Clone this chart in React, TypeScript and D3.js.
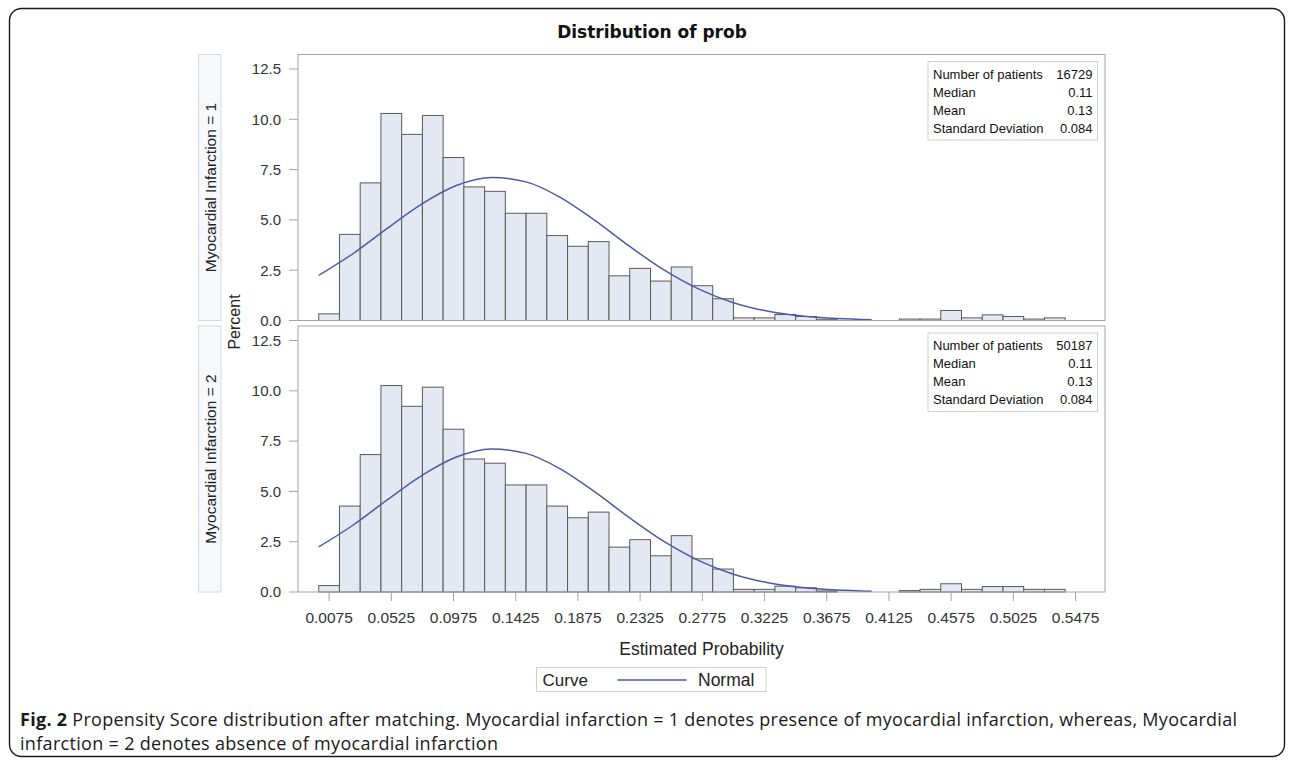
import { useEffect } from "react"
import * as d3 from "d3"

// histogram bins of width 0.015 starting at 0, values in percent
const binWidth = 0.015
const miPresentPct = [
  0.33, 4.28, 6.84, 10.29, 9.25, 10.19, 8.1, 6.64, 6.42, 5.33, 5.33, 4.22, 3.69, 3.92, 2.22, 2.59, 1.96, 2.66,
  1.73, 1.08, 0.13, 0.13, 0.3, 0.2, 0.06, 0, 0, 0, 0.07, 0.07, 0.5, 0.13, 0.28, 0.2, 0.07, 0.13,
]
const miAbsentPct = [
  0.32, 4.27, 6.83, 10.26, 9.23, 10.18, 8.09, 6.61, 6.4, 5.32, 5.32, 4.27, 3.69, 3.97, 2.23, 2.6, 1.8, 2.8,
  1.65, 1.14, 0.13, 0.13, 0.29, 0.21, 0.05, 0, 0, 0, 0.07, 0.13, 0.41, 0.13, 0.27, 0.27, 0.13, 0.13,
]

// normal curve
const curveX = [0, 0.025, 0.05, 0.075, 0.1, 0.125, 0.15, 0.175, 0.2, 0.225, 0.25, 0.275, 0.3, 0.325, 0.35, 0.375, 0.4]
const curvePct = [2.24, 3.33, 4.6, 5.81, 6.72, 7.11, 6.89, 6.11, 4.96, 3.68, 2.5, 1.56, 0.885, 0.46, 0.22, 0.096, 0.038]

const xTicks = [0.0075, 0.0525, 0.0975, 0.1425, 0.1875, 0.2325, 0.2775, 0.3225, 0.3675, 0.4125, 0.4575, 0.5025, 0.5475]
const yTicks = [0, 2.5, 5, 7.5, 10, 12.5]

const statLabels = ["Number of patients", "Median", "Mean", "Standard Deviation"]
const miPresentStats = ["16729", "0.11", "0.13", "0.084"]
const miAbsentStats = ["50187", "0.11", "0.13", "0.084"]

const panelNames = ["Myocardial Infarction = 1", "Myocardial Infarction = 2"]

const W = 1292
const H = 766
const left = 298
const right = 1105
const panelH = 266
const panelTops = [54.5, 326]

const FONT = "'Liberation Sans', Arial, sans-serif"
const CAPTION_FONT = "'Open Sans', 'Noto Sans', sans-serif"
const BAR_FILL = "#e3e8f2"
const BAR_STROKE = "#5a5a5a"
const FRAME = "#a3a3a3"
const CURVE = "#4a5aa6"

export default function App() {
  useEffect(() => {
    document.body.style.margin = "0"
  }, [])

  const x = d3.scaleLinear().domain([-0.015, 0.5688]).range([left, right])

  const panels = [
    { name: panelNames[0], values: miPresentPct, stats: miPresentStats },
    { name: panelNames[1], values: miAbsentPct, stats: miAbsentStats },
  ]

  return (
    <svg width={W} height={H} style={{ display: "block", fontFamily: FONT }}>
      <rect x={9.5} y={8.5} width={1275} height={748} rx={12} fill="white" stroke="#1a1a1a" strokeWidth={1.4} />

      <text x={652} y={38} textAnchor="middle" fontFamily="'DejaVu Sans', Verdana, sans-serif" fontWeight="bold" fontSize={17} fill="#111">
        Distribution of prob
      </text>

      {panels.map((p, pi) => {
        const top = panelTops[pi]
        const bottom = top + panelH
        const y = d3.scaleLinear().domain([0, 13.22]).range([bottom, top])
        const line = d3
          .line<number>()
          .x((_, i) => x(curveX[i]))
          .y((d) => y(d))
          .curve(d3.curveMonotoneX)
        return (
          <g key={pi}>
            {/* strip */}
            <rect x={198.5} y={top} width={22.5} height={panelH} fill="#f7f8fc" stroke="#d6d8dc" />
            <text
              transform={`translate(215.5,${top + panelH / 2}) rotate(-90)`}
              textAnchor="middle"
              fontSize={15.5}
              fill="#222"
            >
              {p.name}
            </text>

            {/* bars */}
            {p.values.map((v, i) =>
              v > 0 ? (
                <rect
                  key={i}
                  x={x(i * binWidth)}
                  y={y(v)}
                  width={x((i + 1) * binWidth) - x(i * binWidth)}
                  height={y(0) - y(v)}
                  fill={BAR_FILL}
                  stroke={BAR_STROKE}
                  strokeWidth={1}
                />
              ) : null
            )}

            {/* normal curve */}
            <path d={line(curvePct) || ""} fill="none" stroke={CURVE} strokeWidth={1.5} />

            {/* frame */}
            <rect x={left} y={top} width={right - left} height={panelH} fill="none" stroke={FRAME} strokeWidth={1} />

            {/* y axis */}
            {yTicks.map((t) => (
              <g key={t}>
                <line x1={289} x2={left} y1={y(t)} y2={y(t)} stroke={FRAME} />
                <text x={281} y={y(t)} dy="0.36em" textAnchor="end" fontSize={15} fill="#333">
                  {d3.format(".1f")(t)}
                </text>
              </g>
            ))}

            {/* stats inset */}
            <g>
              <rect x={928} y={top + 7} width={169.5} height={78.5} fill="white" stroke="#cfcfcf" />
              {statLabels.map((s, i) => (
                <g key={s}>
                  <text x={933} y={top + 24 + i * 18} fontSize={13} fill="#111">
                    {s}
                  </text>
                  <text x={1092.5} y={top + 24 + i * 18} fontSize={13} textAnchor="end" fill="#111">
                    {p.stats[i]}
                  </text>
                </g>
              ))}
            </g>
          </g>
        )
      })}

      <text transform="translate(240,322) rotate(-90)" textAnchor="middle" fontSize={16} fill="#222">
        Percent
      </text>

      {/* x axis of bottom panel */}
      {xTicks.map((t) => (
        <g key={t}>
          <line x1={x(t)} x2={x(t)} y1={592} y2={601} stroke={FRAME} />
          <text x={x(t)} y={622.5} textAnchor="middle" fontSize={15.5} fill="#333">
            {d3.format(".4f")(t)}
          </text>
        </g>
      ))}
      <text x={(left + right) / 2} y={655} textAnchor="middle" fontSize={17.5} fill="#222">
        Estimated Probability
      </text>

      {/* legend */}
      <rect x={536.5} y={667.5} width={229.5} height={24} fill="white" stroke="#cfcfcf" />
      <text x={542.5} y={686} fontSize={17} fill="#222">
        Curve
      </text>
      <line x1={617.5} x2={686.5} y1={680} y2={680} stroke={CURVE} strokeWidth={1.5} />
      <text x={698} y={686} fontSize={17.5} fill="#222">
        Normal
      </text>

      {/* caption */}
      <text x={20} y={726} fontFamily={CAPTION_FONT} fontSize={18} fill="#1a1a1a" textLength={1217} lengthAdjust="spacing">
        <tspan fontWeight="bold">Fig. 2</tspan>
        <tspan> Propensity Score distribution after matching. Myocardial infarction = 1 denotes presence of myocardial infarction, whereas, Myocardial</tspan>
      </text>
      <text x={20} y={750} fontFamily={CAPTION_FONT} fontSize={18} fill="#1a1a1a" textLength={478} lengthAdjust="spacing">
        infarction = 2 denotes absence of myocardial infarction
      </text>
    </svg>
  )
}
